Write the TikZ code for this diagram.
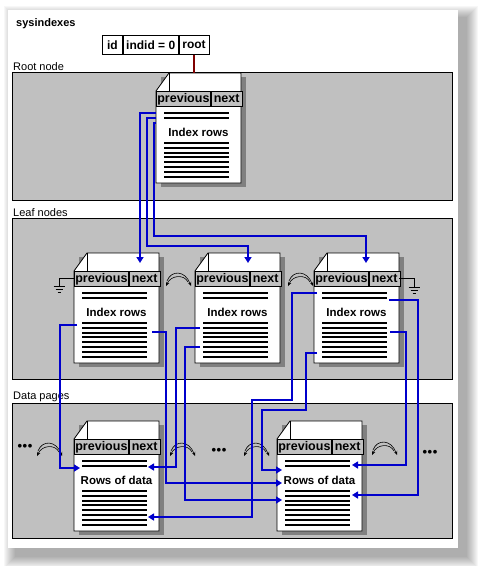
\documentclass[tikz,border=0pt]{standalone}
\usepackage{fontspec}
\setmainfont{Liberation Sans}
\usetikzlibrary{calc,arrows.meta}

\definecolor{bandgray}{HTML}{C0C0C0}
\definecolor{pageshadow}{HTML}{808080}
\definecolor{linkblue}{HTML}{0000CC}
\definecolor{rootred}{HTML}{800000}

\newcommand{\pagefont}{\fontsize{11.5}{12}\selectfont\bfseries}
\newcommand{\hdrfont}{\fontsize{12.5}{13}\selectfont\bfseries}

% one page: #1 name, #2 top left corner, #3 text
\newcommand{\idxpage}[3]{%
  \coordinate (#1) at #2;
  \fill[pageshadow] ($(#1)+(5,4)$) rectangle ($(#1)+(90,114)$);
  \draw[pagebox] ($(#1)+(0,18)$) -- ($(#1)+(13,0)$) -- ($(#1)+(85,0)$)
     -- ($(#1)+(85,110)$) -- ($(#1)+(0,110)$) -- cycle;
  \draw[foldline] ($(#1)+(13,0)$) -- ($(#1)+(13,18)$);
  \node[hdrcell, minimum width=54pt] (#1-prev) at ($(#1)+(0,18)$) {previous};
  \node[hdrcell, minimum width=31pt] (#1-next) at (#1-prev.north east) {next};
  \foreach \d in {40,45,70,75,80,84,89,94,99,104}
    \draw[rowline] ($(#1)+(8,\d)$) -- ($(#1)+(73,\d)$);
  \node[pagetext] (#1-text) at ($(#1)+(42.5,59.5)$) {#3};
}

\begin{document}
\begin{tikzpicture}[x=1pt, y=-1pt,
% common options for the bands:
band/.style = {draw, fill=bandgray, anchor=north west, minimum width=440pt,
            inner sep=0, line width=0.8pt},
bandlabel/.style = {anchor=south west, inner sep=1pt, font=\fontsize{11}{12}\selectfont},
% common options for the pages:
pagebox/.style = {draw, fill=white, line width=0.8pt},
foldline/.style = {line width=0.8pt},
hdrcell/.style = {draw, fill=bandgray, anchor=north west, minimum height=15pt,
            inner sep=0, line width=0.8pt, font=\hdrfont},
rowline/.style = {line width=1.8pt},
pagetext/.style = {font=\pagefont, inner sep=0},
tabcell/.style = {draw, anchor=north west, minimum height=19pt, inner sep=0,
            line width=0.8pt, font=\fontsize{12}{12}\selectfont\bfseries},
% pointers:
link/.style = {draw=linkblue, line width=2pt, -{Triangle[length=6pt,width=7pt]}},
rootlink/.style = {draw=rootred, line width=2pt},
sibline/.style = {line width=0.6pt, -{Stealth[length=4pt,width=3.5pt]}},
ellip/.style = {inner sep=0, font=\fontsize{13}{13}\selectfont\bfseries},
sibarc/.pic = {
  \draw[sibline] (2,11) .. controls (6,0) and (20,0) .. (26,16);
  \draw[sibline] (23,12) .. controls (19,4) and (6,5) .. (1,16);
},
earth/.pic = {
  \draw[line width=0.8pt] (-5.5,0) -- (5.5,0) (-3.5,3) -- (3.5,3) (-1.5,6) -- (1.5,6);
}]
\useasboundingbox (0,0) rectangle (478,566);
% window with its shadow
\foreach \i in {1,...,12}
  \fill[black, opacity=0.03] (16-\i,18-\i) rectangle (466+\i,556+\i);
\fill[white] (8,10) rectangle (458,548);

\node[anchor=west, inner sep=0, font=\fontsize{11}{12}\selectfont\bfseries] (title) at (16,24) {sysindexes};
\node[tabcell, minimum width=20pt] (tid) at (102,35) {id};
\node[tabcell, minimum width=55pt] (tindid) at (tid.north east) {indid = 0};
\node[tabcell, minimum width=30pt] (troot) at (tindid.north east) {root};

% bands
\node[band, minimum height=128pt] (rootband) at (12,72) {};
\node[bandlabel] (rootlbl) at (rootband.north west) {Root node};
\node[band, minimum height=161pt] (leafband) at (12,218) {};
\node[bandlabel] (leaflbl) at (leafband.north west) {Leaf nodes};
\node[band, minimum height=135pt] (databand) at (12,403) {};
\node[bandlabel] (datalbl) at (databand.north west) {Data pages};

% pages
\idxpage{root}{(156,73)}{Index rows}
\idxpage{leafA}{(74,253)}{Index rows}
\idxpage{leafB}{(195,253)}{Index rows}
\idxpage{leafC}{(314,253)}{Index rows}
\idxpage{dataD}{(74,421)}{Rows of data}
\idxpage{dataE}{(277,421)}{Rows of data}

\draw[rootlink] (troot.south) -- (troot.south |- root);

% sibling links, ends of chains
\pic (sibAB) at (165,270) {sibarc};
\pic (sibBC) at (287,270) {sibarc};
\pic (sibDl) at (36,440) {sibarc};
\pic (sibDr) at (169,440) {sibarc};
\pic (sibEl) at (243,440) {sibarc};
\pic (sibEr) at (371,439) {sibarc};
\node[ellip] (moreL) at (25,447) {\textbullet\kern0.5pt\textbullet\kern0.5pt\textbullet};
\node[ellip] (moreM) at (219,451) {\textbullet\kern0.5pt\textbullet\kern0.5pt\textbullet};
\node[ellip] (moreR) at (430,453) {\textbullet\kern0.5pt\textbullet\kern0.5pt\textbullet};
\draw[line width=0.8pt] ($(leafA)+(0,25)$) -| ($(leafA)+(-15,33)$) coordinate (gndA);
\pic at (gndA) {earth};
\draw[line width=0.8pt] ($(leafC)+(85,25)$) -| ($(leafC)+(100,34)$) coordinate (gndC);
\pic at (gndC) {earth};

% root -> leaf pages
\draw[link] ($(root)+(0,40)$) -| ($(leafA)+(66,10)$);
\draw[link] ($(root)+(0,45)$) -| (147,246) -| ($(leafB)+(53,10)$);
\draw[link] ($(root)+(0,50)$) -| (154,236) -| ($(leafC)+(52,10)$);

% leaf pages -> data pages
\draw[link] ($(leafA)+(3,72)$) -| (60,468) -- ($(dataD)+(6,47)$);
\draw[link] ($(leafA)+(78,79)$) -| (166,483) -- ($(dataE)+(5,62)$);
\draw[link] ($(leafB)+(5,75)$) -| (176,467) -- ($(dataD)+(74,46)$);
\draw[link] ($(leafB)+(5,94)$) -| (185,500) -- ($(dataE)+(5,79)$);
\draw[link] ($(leafC)+(3,40)$) -| (292,400) -| (252,517) -- ($(dataD)+(74,96)$);
\draw[link] ($(leafC)+(3,100)$) -| (306,410) -| (262,470) -- ($(dataE)+(5,49)$);
\draw[link] ($(leafC)+(75,47)$) -| (418,495) -- ($(dataE)+(75,74)$);
\draw[link] ($(leafC)+(76,79)$) -| (406,465) -- ($(dataE)+(75,44)$);
\end{tikzpicture}
\end{document}
